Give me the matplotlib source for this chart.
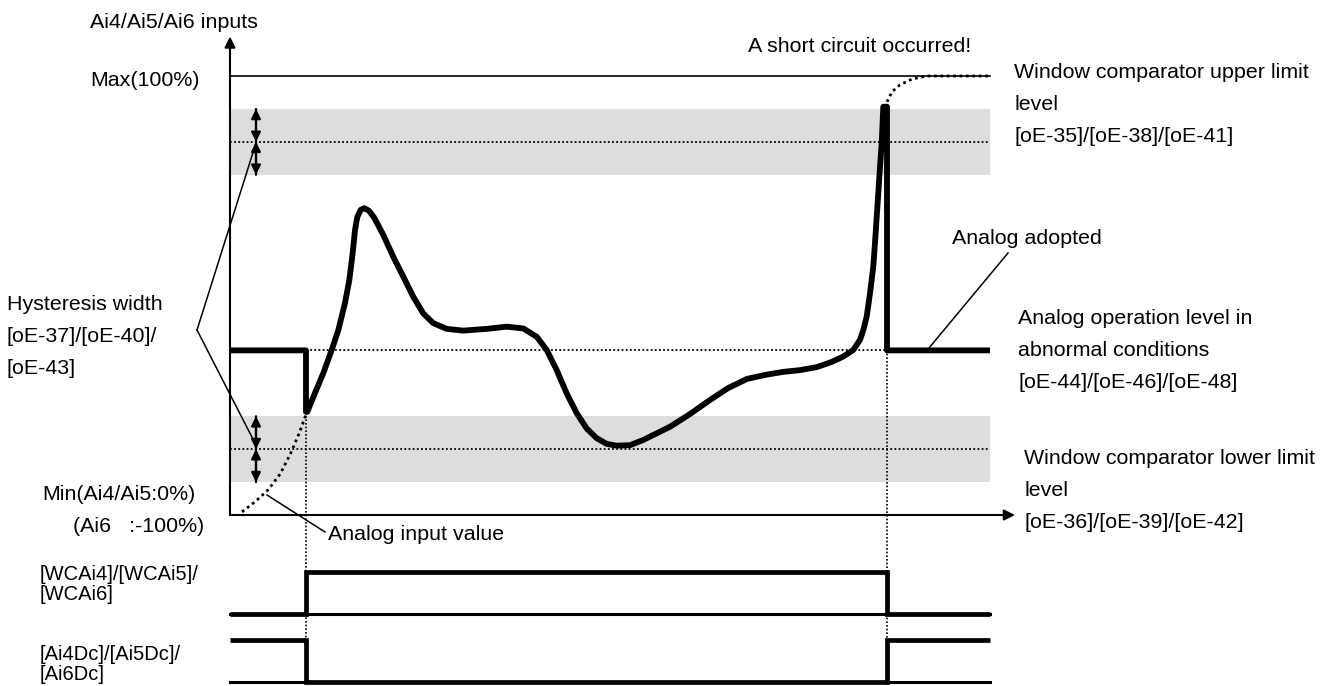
import numpy as np
import matplotlib.pyplot as plt

W, H = 1331, 686
plt.rcParams['font.family'] = ['Liberation Sans', 'DejaVu Sans']

# levels in % of full scale
max_level = 100.0
upper_limit = 85.0
lower_limit = 15.0
hysteresis = 7.5
op_level = 37.5

# event times (time axis units)
t_start, t_on, t_short, t_end, t_axis = 0.0, 7.6, 65.7, 76.0, 78.5

# analog input value (thick curve between the two events)
curve_t = [7.73, 8.5, 9.33, 10.17, 10.83, 11.5, 11.93, 12.27, 12.5, 12.73, 13.07, 13.43,
           13.9, 14.4, 15.33, 16.33, 17.33, 18.33, 19.33, 20.33, 21.67, 23.33, 25.67,
           27.67, 29.33, 30.67, 31.67, 32.67, 33.67, 34.67, 35.67, 36.67, 37.67, 38.67,
           40.0, 41.33, 42.67, 44.0, 46.0, 48.0, 49.8, 51.7, 53.5, 55.3, 57.0, 58.7, 60.2,
           61.33, 62.33, 63.0, 63.33, 63.67, 64.0, 64.33, 64.5, 64.67, 64.83, 65.0, 65.17,
           65.33]
curve_v = [23.5, 27.8, 32.3, 37.6, 42.1, 48.3, 53.5, 59.7, 64.9, 67.9, 69.5, 69.9,
           69.3, 67.8, 63.8, 58.8, 54.3, 49.7, 45.9, 43.7, 42.4, 42.0, 42.4,
           42.9, 42.5, 40.6, 37.6, 33.0, 27.7, 23.2, 19.7, 17.5, 16.2, 15.8,
           15.9, 17.1, 18.6, 20.1, 23.0, 26.2, 28.9, 31.0, 31.9, 32.6, 33.0, 33.7, 34.9,
           36.1, 37.6, 39.9, 42.1, 45.2, 50.5, 56.6, 62.0, 67.9, 73.3, 79.3, 84.7,
           93.0]

# real input before detection (dotted)
pre_t = [1.2, 2.5, 3.8, 5.0, 6.0, 6.9, 7.7]
pre_v = [0.7, 3.0, 5.7, 9.3, 13.7, 18.5, 23.5]
# real input after the short circuit (dotted)
post_t = [65.7, 66.2, 67.0, 68.2, 69.7, 76.0]
post_v = [94.1, 96.4, 98.0, 99.3, 100.0, 100.0]

# output signals
edges = [t_start, t_on, t_short, t_end]
wc_states = [0, 1, 0]
dc_states = [1, 0, 1]


def px(x, y):
    return (x - 230) / 10.0, (515 - y) / 4.39


def label(x, y, lines, step=31.5, size=15.4):
    for i, s in enumerate(lines):
        fig.text(x / W, 1 - (y + i * step) / H, s, fontsize=size, ha='left', va='center')


fig = plt.figure(figsize=(W / 100, H / 100), dpi=100)
ax = fig.add_axes([0, 0, 1, 1])
ax.set_xlim(-23.0, 110.1)
ax.set_ylim(-38.95, 117.31)
ax.axis('off')

band = '#dddddd'
dots = (0, (1, 1.3))
arr = dict(arrowstyle='-|>', lw=1.6, color='black', mutation_scale=14, shrinkA=0, shrinkB=0)
for lv in (upper_limit, lower_limit):
    ax.fill_between([t_start, t_end], lv - hysteresis, lv + hysteresis, color=band, lw=0, zorder=0)
    ax.plot([t_start, t_end], [lv, lv], color='black', lw=1.3, ls=dots, zorder=1)
    for a, b in ((lv + hysteresis, lv), (lv - hysteresis, lv)):
        ax.annotate('', xy=(2.6, b), xytext=(2.6, a), arrowprops=arr, zorder=3)
        ax.annotate('', xy=(2.6, a), xytext=(2.6, b), arrowprops=arr, zorder=3)

ax.plot([t_start, t_end], [max_level, max_level], color='black', lw=1.2)
ax.plot([t_on, t_short], [op_level, op_level], color='black', lw=1.3, ls=dots)

# axes with arrows
ax_arr = dict(arrowstyle='-|>', lw=1.5, color='black', mutation_scale=16, shrinkA=0, shrinkB=0)
ax.annotate('', xy=(0, 109.0), xytext=(0, 0), arrowprops=ax_arr)
ax.annotate('', xy=(t_axis, 0), xytext=(0, 0), arrowprops=ax_arr)

# event lines
ax.plot([t_on, t_on], [curve_v[0], -28.5], color='black', lw=1.2, ls=(0, (1, 1.2)))
ax.plot([t_short, t_short], [op_level, -28.5], color='black', lw=1.2, ls=(0, (1, 1.2)))

# dotted real input
ax.plot(pre_t, pre_v, color='black', lw=2.0, ls=(0, (1, 1.3)))
ax.plot(post_t, post_v, color='black', lw=2.0, ls=(0, (1, 1.3)))

# thick analog value actually used
used_t = [t_start, t_on, t_on] + curve_t + [t_short, t_short, t_end]
used_v = [op_level, op_level, curve_v[0]] + curve_v + [curve_v[-1], op_level, op_level]
ax.plot(used_t, used_v, color='black', lw=4.2, solid_joinstyle='round', solid_capstyle='butt', zorder=4)

# output signals
lanes = [(-22.6, 9.6, wc_states), (-38.0, 9.5, dc_states)]
for low, hgt, st in lanes:
    ax.plot([t_start, t_end], [low, low], color='black', lw=2.2)
    ax.stairs([low + s * hgt for s in st], edges, baseline=None, color='black', lw=3.4)

# leader lines
for a, b in ((px(197, 330), px(256, 143)), (px(197, 330), px(256, 445)),
             (px(1008, 253), px(929, 348)), (px(267, 495), px(325, 532))):
    ax.plot([a[0], b[0]], [a[1], b[1]], color='black', lw=1.1)

label(90, 23, ['Ai4/Ai5/Ai6 inputs'])
label(90, 80, ['Max(100%)'])
label(748, 47, ['A short circuit occurred!'])
label(1014, 73, ['Window comparator upper limit', 'level', '[oE-35]/[oE-38]/[oE-41]'], step=32)
label(952, 239, ['Analog adopted'])
label(7, 305, ['Hysteresis width', '[oE-37]/[oE-40]/', '[oE-43]'])
label(1018, 319, ['Analog operation level in', 'abnormal conditions', '[oE-44]/[oE-46]/[oE-48]'], step=32)
label(1024, 459, ['Window comparator lower limit', 'level', '[oE-36]/[oE-39]/[oE-42]'], step=32)
label(42, 495, ['Min(Ai4/Ai5:0%)'])
label(73, 527, ['(Ai6   :-100%)'])
label(328, 535, ['Analog input value'])
label(40, 575, ['[WCAi4]/[WCAi5]/', '[WCAi6]'], step=19, size=14.5)
label(40, 654, ['[Ai4Dc]/[Ai5Dc]/', '[Ai6Dc]'], step=20, size=14.5)

fig.savefig('out.png', dpi=100)
